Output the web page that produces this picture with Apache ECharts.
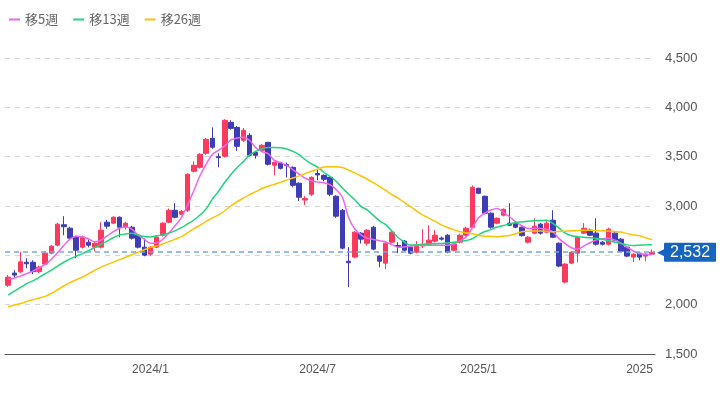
<!DOCTYPE html>
<html>
<head>
<meta charset="utf-8">
<script src="https://cdn.jsdelivr.net/npm/echarts@6/dist/echarts.min.js"></script>
<style>
  html, body { margin: 0; padding: 0; background: #fff; }
  #chart { width: 721px; height: 397px; }
</style>
</head>
<body>
<div id="chart"></div>
<script>
// 週足 [始値, 終値, 安値, 高値]
const candles = [
  [2198,2279,2180,2300],[2320,2300,2270,2350],[2333,2434,2320,2535],[2430,2415,2370,2470],[2430,2335,2310,2450],
  [2335,2380,2320,2395],[2411,2522,2400,2535],[2522,2593,2510,2605],[2603,2816,2590,2830],[2810,2790,2704,2897],
  [2775,2674,2660,2790],[2684,2552,2471,2700],[2583,2684,2570,2700],[2633,2603,2580,2660],[2583,2623,2540,2640],
  [2583,2755,2570,2836],[2836,2795,2770,2860],[2826,2886,2815,2895],[2886,2785,2684,2895],[2785,2826,2760,2840],
  [2785,2674,2660,2800],[2704,2583,2570,2715],[2583,2502,2490,2674],[2512,2583,2495,2595],[2583,2684,2575,2695],
  [2704,2826,2690,2836],[2836,2957,2826,2975],[2957,2886,2875,3028],[2917,2947,2905,2960],[2957,3322,2940,3330],
  [3352,3413,3340,3453],[3392,3524,3380,3535],[3534,3676,3520,3690],[3686,3595,3580,3797],[3500,3490,3392,3534],
  [3504,3868,3490,3880],[3848,3787,3775,3870],[3797,3605,3560,3810],[3666,3767,3650,3790],[3716,3514,3500,3740],
  [3544,3514,3480,3560],[3564,3615,3550,3630],[3645,3423,3410,3650],[3413,3443,3311,3450],[3433,3382,3370,3445],
  [3420,3410,3290,3440],[3392,3210,3190,3400],[3231,3089,3050,3240],[3060,3075,3010,3100],[3119,3291,3100,3300],
  [3330,3315,3261,3372],[3311,3271,3250,3320],[3291,3119,3100,3300],[3099,2897,2880,3110],[2957,2573,2560,2970],
  [2440,2425,2178,2583],[2482,2735,2470,2745],[2725,2664,2620,2735],[2623,2755,2600,2765],[2785,2563,2550,2800],
  [2492,2441,2380,2500],[2421,2623,2360,2630],[2633,2735,2620,2760],[2600,2590,2522,2633],[2644,2552,2540,2655],
  [2583,2522,2510,2595],[2532,2593,2520,2644],[2595,2610,2573,2765],[2613,2654,2600,2805],[2644,2704,2630,2755],
  [2675,2664,2650,2690],[2704,2532,2520,2715],[2552,2613,2540,2625],[2633,2704,2620,2720],[2704,2775,2690,2790],
  [2785,3190,2775,3210],[3180,3129,3120,3185],[3099,2927,2915,3105],[2927,2785,2770,2935],[2826,2876,2815,2885],
  [2907,2967,2895,2975],[2826,2805,2795,3028],[2826,2785,2775,2835],[2785,2700,2690,2795],[2633,2684,2620,2695],
  [2725,2795,2715,2876],[2816,2725,2710,2826],[2735,2826,2725,2856],[2856,2684,2675,2957],[2623,2391,2380,2630],
  [2229,2411,2215,2420],[2421,2532,2410,2540],[2522,2684,2431,2695],[2725,2775,2715,2826],[2755,2704,2695,2770],
  [2725,2613,2600,2876],[2633,2613,2600,2645],[2613,2765,2600,2780],[2725,2654,2640,2735],[2664,2542,2530,2675],
  [2583,2492,2480,2590],[2482,2512,2431,2520],[2522,2482,2450,2530],[2492,2512,2440,2520],[2512,2532,2505,2560]
]

// 移動平均
const ma5 = [
  2254,2271,2289,2315,2340,2373,2408,2460,2528,2601, 2664,2694,2689,2667,2638,2653,2697,2740,2774,2788,
  2765,2705,2663,2623,2623,2663,2728,2802,2883,3011, 3155,3307,3425,3523,3564,3609,3670,3689,3696,3666,
  3592,3551,3531,3463,3442,3412,3369,3324,3281,3256, 3242,3236,3216,3166,3088,2884,2767,2708,2674,2661,
  2648,2635,2609,2583,2585,2593,2602,2603,2603,2603, 2603,2603,2618,2646,2686,2779,2881,2927,2959,2974,
  2937,2891,2839,2800,2772,2772,2772,2762,2737,2669, 2618,2577,2562,2594,2628,2655,2669,2674,2654,2624,
  2582,2544,2517,2511,2507
]
const ma13 = [
  2097,2137,2175,2214,2241,2277,2314,2351,2391,2430, 2464,2491,2517,2548,2580,2611,2644,2678,2706,2717,
  2725,2704,2692,2687,2698,2710,2725,2750,2781,2819, 2858,2909,2971,3070,3150,3240,3320,3390,3450,3515,
  3553,3580,3592,3592,3590,3577,3553,3521,3469,3427, 3394,3342,3300,3251,3183,3122,3063,2997,2960,2905,
  2850,2811,2746,2681,2635,2604,2607,2612,2615,2618, 2620,2626,2633,2639,2650,2668,2708,2741,2761,2787,
  2802,2818,2831,2839,2846,2851,2853,2856,2824,2776, 2724,2698,2689,2683,2677,2673,2663,2647,2633,2620,
  2606,2599,2603,2606,2608
]
const ma26 = [
  1978,1996,2011,2033,2050,2067,2084,2115,2152,2189, 2223,2253,2280,2314,2348,2381,2406,2431,2456,2481,
  2506,2531,2556,2581,2595,2617,2640,2664,2689,2730, 2770,2805,2845,2880,2911,2952,3001,3043,3081,3114,
  3145,3177,3200,3219,3242,3262,3283,3305,3329,3352, 3374,3395,3399,3399,3390,3365,3335,3304,3271,3236,
  3198,3159,3115,3079,3036,2993,2947,2907,2876,2844, 2809,2782,2760,2740,2729,2718,2704,2694,2692,2688,
  2694,2702,2719,2739,2744,2747,2746,2742,2739,2742, 2745,2748,2751,2754,2754,2751,2748,2745,2741,2737,
  2720,2709,2698,2678,2658
]

// x軸ラベル（週インデックス → 表示）
const tickIndex = [23, 50, 76, 102]
const tickText = ['2024/1', '2024/7', '2025/1', '2025']

const categories = candles.map((_, i) => {
  const k = tickIndex.indexOf(i)
  return k >= 0 ? tickText[k] : ''
})
const lastClose = candles[candles.length - 1][1]

const upColor = '#fb3a5e'
const downColor = '#3d3db5'
const axisFont = "'Liberation Sans', Arial, sans-serif"

const chart = echarts.init(document.getElementById('chart'))

const option = {
  animation: false,
  textStyle: { fontFamily: "'Noto Sans CJK JP', sans-serif" },
  legend: {
    left: 4,
    top: 8,
    icon: 'rect',
    itemWidth: 11,
    itemHeight: 2,
    itemGap: 15,
    textStyle: { color: '#666', fontSize: 13, fontFamily: "'Noto Sans CJK JP', sans-serif" },
    data: ['移5週', '移13週', '移26週']
  },
  grid: { left: 5, right: 66, top: 58, bottom: 43 },
  xAxis: {
    type: 'category',
    data: categories,
    boundaryGap: true,
    axisLine: { lineStyle: { color: '#555', width: 1 } },
    axisTick: { show: false },
    splitLine: { show: false },
    axisLabel: {
      interval: 0,
      color: '#555',
      fontSize: 12,
      margin: 10,
      fontFamily: axisFont
    }
  },
  yAxis: {
    type: 'value',
    position: 'right',
    min: 1500,
    max: 4500,
    interval: 500,
    axisLine: { show: false },
    axisTick: { show: false },
    axisLabel: {
      color: '#555',
      fontSize: 13,
      margin: 10,
      fontFamily: axisFont,
      formatter: v => v.toLocaleString('en-US')
    },
    splitLine: { lineStyle: { color: '#d6d6d6', type: [5, 5] } }
  },
  series: [
    {
      name: '週足',
      type: 'candlestick',
      data: candles,
      barWidth: 5,
      itemStyle: {
        color: upColor,
        color0: downColor,
        borderColor: upColor,
        borderColor0: downColor,
        borderWidth: 1
      },
      markLine: {
        silent: true,
        symbol: 'none',
        data: [{ yAxis: lastClose }],
        lineStyle: { color: '#74a7e3', type: [5, 4], width: 1.5 },
        label: {
          position: 'end',
          distance: 2,
          formatter: () => '{a|◀}{b|' + lastClose.toLocaleString('en-US') + '}',
          rich: {
            a: { color: '#1565c0', fontSize: 13, padding: [0, -3, 0, 0], fontFamily: 'DejaVu Sans' },
            b: {
              color: '#fff',
              backgroundColor: '#1565c0',
              fontSize: 16,
              fontFamily: axisFont,
              padding: [2, 6, 1, 6],
              borderRadius: 1
            }
          }
        }
      }
    },
    {
      name: '移5週',
      type: 'line',
      data: ma5,
      symbol: 'none',
      smooth: 0.3,
      color: '#f064f0',
      lineStyle: { width: 1.5, color: '#f064f0' }
    },
    {
      name: '移13週',
      type: 'line',
      data: ma13,
      symbol: 'none',
      smooth: 0.3,
      color: '#1fd67a',
      lineStyle: { width: 1.5, color: '#1fd67a' }
    },
    {
      name: '移26週',
      type: 'line',
      data: ma26,
      symbol: 'none',
      smooth: 0.3,
      color: '#ffc400',
      lineStyle: { width: 1.5, color: '#ffc400' }
    }
  ]
}

chart.setOption(option)
window.addEventListener('resize', () => chart.resize())
</script>
</body>
</html>
